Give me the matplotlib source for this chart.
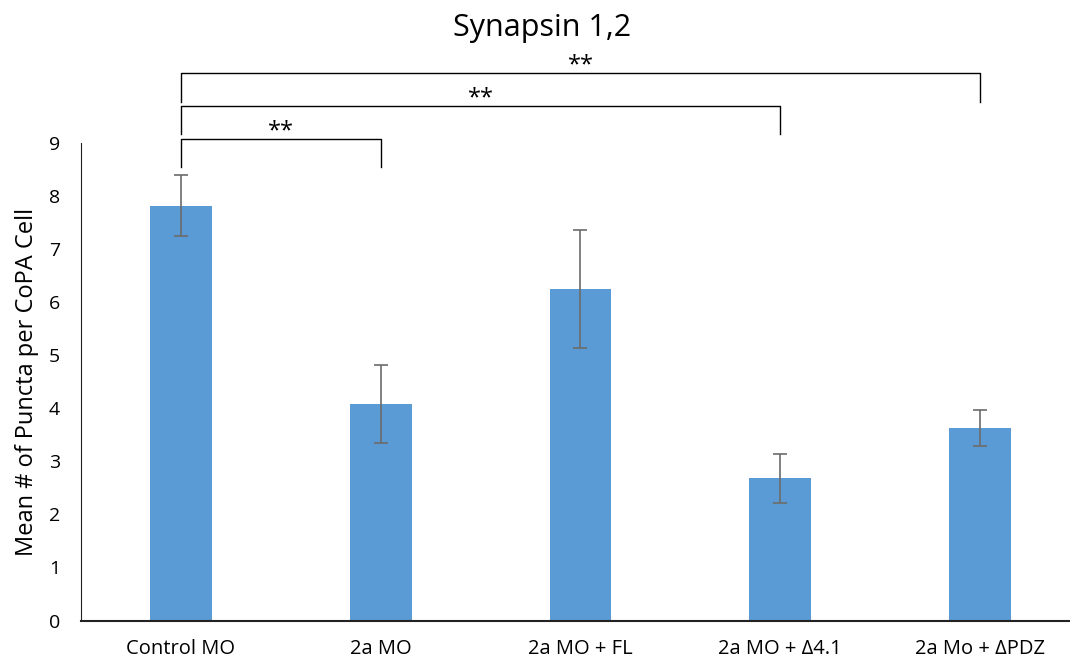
import matplotlib.pyplot as plt

# Data
categories = ['Control MO', '2a MO', '2a MO + FL', '2a MO + Δ4.1', '2a Mo + ΔPDZ']
means = [7.82, 4.08, 6.25, 2.68, 3.63]
errors = [0.58, 0.73, 1.11, 0.46, 0.34]

# significance brackets: (from index, to index, bracket height, end drop height, label)
brackets = [(0, 1, 9.08, 8.55, '**'),
            (0, 3, 9.70, 9.17, '**'),
            (0, 4, 10.32, 9.78, '**')]

plt.rcParams['font.family'] = ['Open Sans', 'DejaVu Sans']

fig = plt.figure(figsize=(10.7, 6.66), dpi=100)
ax = fig.add_axes([81 / 1070, 45.5 / 666, 989 / 1070, 477.5 / 666])

x = range(len(categories))
ax.bar(x, means, width=0.31, color='#5B9BD5', zorder=2)
ax.errorbar(x, means, yerr=errors, fmt='none', ecolor='#6b6b6b',
            elinewidth=1.2, capsize=5, capthick=1.2, zorder=3)

ax.set_xlim(-0.5, 4.45)
ax.set_ylim(0, 9)
ax.set_yticks(range(10))
ax.set_xticks(list(x))
ax.set_xticklabels(categories)
ax.tick_params(axis='x', length=0, pad=13, labelsize=14.5)
ax.tick_params(axis='y', length=0, pad=15, labelsize=14)

for side in ['top', 'right']:
    ax.spines[side].set_visible(False)
ax.spines['left'].set_color('#222222')
ax.spines['bottom'].set_color('#222222')
ax.spines['bottom'].set_linewidth(1.5)

ax.set_ylabel('Mean # of Puncta per CoPA Cell', fontsize=17, labelpad=7)
fig.text(0.507, 0.958, 'Synapsin 1,2', ha='center', va='center', fontsize=22)

for i, j, h, drop, label in brackets:
    ax.plot([i, i, j, j], [drop, h, h, drop], color='black', lw=1,
            clip_on=False)
    ax.text((i + j) / 2, h + 0.02, label, ha='center', va='baseline',
            fontsize=17, clip_on=False)

fig.savefig('out.png', dpi=100)
